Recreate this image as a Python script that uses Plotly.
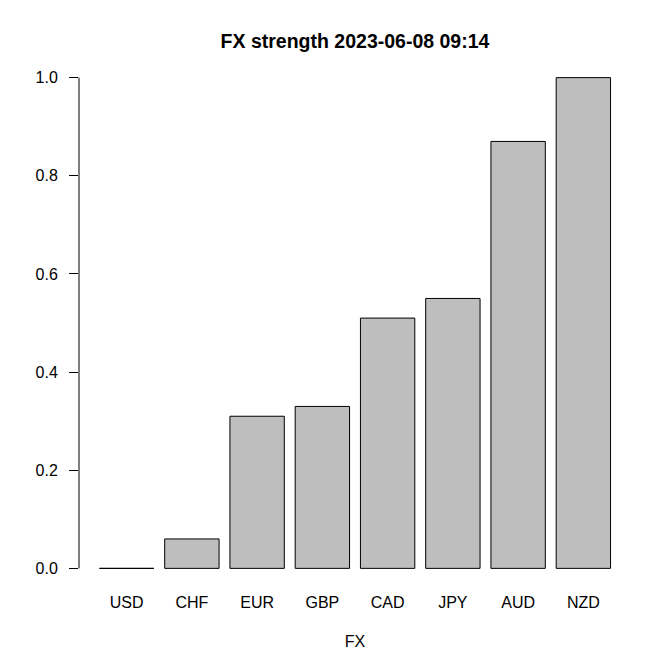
import plotly.graph_objects as go

currencies = ["USD", "CHF", "EUR", "GBP", "CAD", "JPY", "AUD", "NZD"]
strength = [0.0, 0.06, 0.31, 0.33, 0.51, 0.55, 0.87, 1.0]
y_ticks = [0.0, 0.2, 0.4, 0.6, 0.8, 1.0]
y_ticktext = ["0.0", "0.2", "0.4", "0.6", "0.8", "1.0"]

# R barplot layout: width 1, space 0.2
centers = [0.7 + 1.2 * i for i in range(len(currencies))]
xmin, xmax = 0.2, 0.2 + 1.2 * len(currencies) - 0.2
xpad = (xmax - xmin) * 0.04
ypad = 0.04

FONT = "Liberation Sans, Arial, sans-serif"
W, H = 664, 663  # page body has 8px margin

fig = go.Figure()
fig.add_trace(go.Bar(
    x=centers, y=strength, width=1.0,
    marker=dict(color="#BEBEBE", line=dict(color="black", width=1)),
    hoverinfo="skip",
))

fig.update_layout(
    width=W, height=H,
    paper_bgcolor="white", plot_bgcolor="white",
    margin=dict(l=70.5, r=40.5, t=50.4, b=83.4, pad=0),
    showlegend=False,
    font=dict(family=FONT, size=16, color="black"),
    title=dict(text="<b>FX strength 2023-06-08 09:14</b>", x=0.5, xref="paper",
               xanchor="center", y=1 - 33 / H, yanchor="middle",
               font=dict(size=19.5, family=FONT, color="black")),
    xaxis=dict(range=[xmin - xpad, xmax + xpad], tickvals=centers, ticktext=currencies,
               showgrid=False, zeroline=False, showline=False, ticks="",
               ticklabelstandoff=3,
               title=dict(text="FX", standoff=25, font=dict(size=16))),
    yaxis=dict(range=[-ypad, 1 + ypad], tickvals=y_ticks, ticktext=y_ticktext,
               showgrid=False, zeroline=False, showline=False,
               ticks="outside", ticklen=9, tickwidth=1, tickcolor="black",
               ticklabelstandoff=8),
)

fig.add_shape(type="line", xref="paper", yref="y", x0=0, x1=0,
              y0=y_ticks[0], y1=y_ticks[-1], line=dict(color="black", width=1))

fig.write_html("out.html")
